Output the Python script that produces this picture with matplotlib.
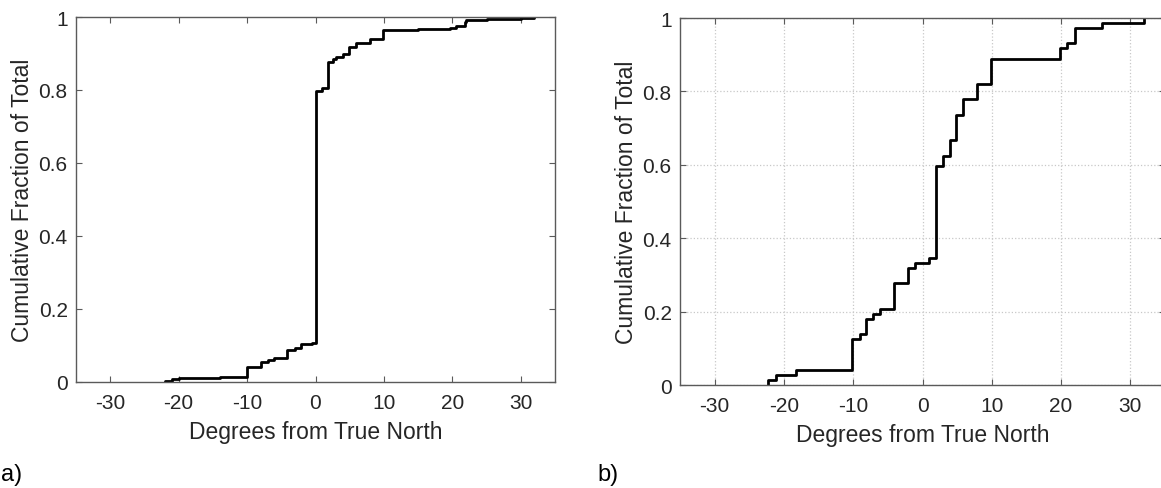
import matplotlib
matplotlib.use('Agg')
from matplotlib import pyplot as plt

plt.rcParams['font.family'] = ['Liberation Sans', 'DejaVu Sans']

# panel a) step locations (degrees) and cumulative fraction after each step
deg_a = [-22.0, -21.0, -20.0, -17.0, -14.0, -10.0, -8.0, -7.0, -6.0, -4.1, -3.0,
         -2.1, -0.5, 0.0, 1.0, 1.8, 2.5, 3.0, 4.0, 4.9, 5.9, 8.0, 9.9, 15.0,
         19.6, 20.5, 21.9, 22.0, 25.0, 30.0, 32.0]
frac_a = [0.003, 0.008, 0.010, 0.012, 0.014, 0.040, 0.055, 0.060, 0.065, 0.088, 0.092,
          0.105, 0.108, 0.797, 0.805, 0.878, 0.885, 0.890, 0.900, 0.918, 0.928, 0.940, 0.965, 0.967,
          0.970, 0.975, 0.985, 0.992, 0.995, 0.998, 1.0]

# panel b)
deg_b = [-22.3, -21.2, -18.2, -10.2, -9.0, -8.1, -7.1, -6.2, -4.1, -2.1, -1.1, 0.9,
         1.9, 2.9, 3.9, 4.9, 5.9, 7.9, 9.9, 19.9, 20.9, 22.0, 25.9, 31.9]
frac_b = [0.014, 0.028, 0.042, 0.125, 0.139, 0.181, 0.194, 0.208, 0.278, 0.319, 0.333, 0.347,
          0.597, 0.625, 0.667, 0.736, 0.778, 0.819, 0.889, 0.917, 0.931, 0.972, 0.986, 1.0]

xticks = [-30, -20, -10, 0, 10, 20, 30]
yticks = [0, 0.2, 0.4, 0.6, 0.8, 1]
ytick_labels = ['0', '0.2', '0.4', '0.6', '0.8', '1']

W, H = 1161, 489
fig = plt.figure(figsize=(W / 100, H / 100), dpi=100)

txt = '#262626'
spine = '#5a5a5a'


def setup(ax, grid):
    ax.set_xlim(-35, 35)
    ax.set_ylim(0, 1)
    ax.set_xticks(xticks)
    ax.set_xticklabels([str(t) for t in xticks])
    ax.set_yticks(yticks)
    ax.set_yticklabels(ytick_labels)
    ax.tick_params(direction='in', length=4, width=0.8, colors=spine,
                   labelcolor=txt, labelsize=15, top=True, right=True)
    ax.tick_params(axis='x', pad=8)
    ax.tick_params(axis='y', pad=6)
    for s in ax.spines.values():
        s.set_color(spine)
        s.set_linewidth(1.0)
    if grid:
        ax.grid(True, color='#c8c8c8', linestyle=':', linewidth=0.9)
        ax.set_axisbelow(True)
    ax.set_xlabel('Degrees from True North', fontsize=16.5, color=txt, labelpad=6)
    ax.set_ylabel('Cumulative Fraction of Total', fontsize=16.5, color=txt, labelpad=3)


ax1 = fig.add_axes([76 / W, 1 - 383 / H, 479 / W, 365 / H])
ax1.step([deg_a[0]] + deg_a, [0] + frac_a, where='post', color='black', lw=2)
setup(ax1, grid=False)

ax2 = fig.add_axes([680 / W, 1 - 386 / H, 485 / W, 367 / H])
ax2.step([deg_b[0]] + deg_b, [0] + frac_b, where='post', color='black', lw=2)
setup(ax2, grid=True)

fig.text(1 / W, 1 - 481 / H, 'a)', fontsize=17, color='black', va='baseline')
fig.text(597 / W, 1 - 481 / H, 'b)', fontsize=17, color='black', va='baseline')

plt.savefig('out.png', dpi=100)
